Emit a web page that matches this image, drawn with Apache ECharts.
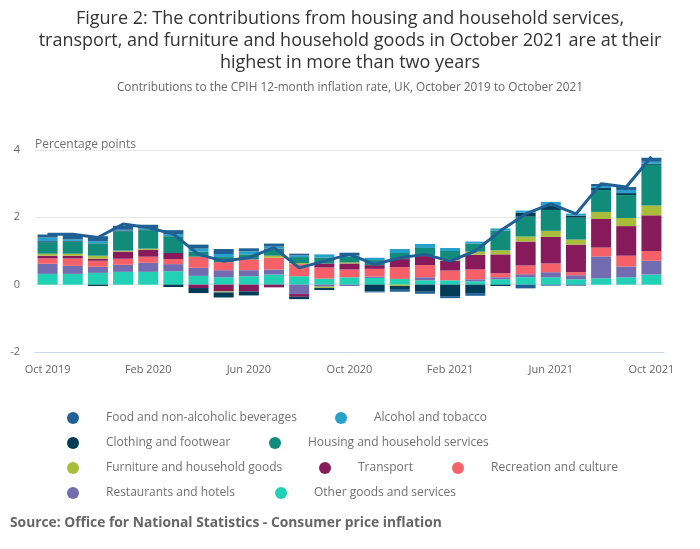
<!DOCTYPE html>
<html>
<head>
<meta charset="utf-8">
<script src="https://cdn.jsdelivr.net/npm/echarts@6/dist/echarts.min.js"></script>
<style>
html,body{margin:0;padding:0;background:#fff;}
#chart{width:700px;height:549px;}
</style>
</head>
<body>
<div id="chart"></div>
<script>
const months = ["Oct 2019","Nov 2019","Dec 2019","Jan 2020","Feb 2020","Mar 2020","Apr 2020","May 2020","Jun 2020","Jul 2020","Aug 2020","Sep 2020","Oct 2020","Nov 2020","Dec 2020","Jan 2021","Feb 2021","Mar 2021","Apr 2021","May 2021","Jun 2021","Jul 2021","Aug 2021","Sep 2021","Oct 2021"];

const otherGoods   = [0.32,0.32,0.35,0.38,0.38,0.40,0.26,0.22,0.25,0.30,0.25,0.18,0.22,0.20,0.17,0.13,0.13,0.10,0.16,0.22,0.22,0.16,0.19,0.22,0.30];
const restaurants  = [0.30,0.24,0.18,0.21,0.27,0.21,0.24,0.21,0.18,0.15,-0.28,-0.06,-0.04,0.04,0,0.09,0,0.06,0.06,0.09,0.15,0.12,0.65,0.32,0.41];
const recreation   = [0.16,0.22,0.18,0.18,0.18,0.15,0.33,0.24,0.32,0.35,0.36,0.33,0.23,0.23,0.35,0.36,0.29,0.29,0.12,0.26,0.26,0.09,0.26,0.32,0.29];
const transport    = [0.08,0.08,0.06,0.21,0.21,0.18,-0.10,-0.20,-0.20,-0.08,-0.08,0.12,0.18,0.11,0.24,0.27,0.29,0.44,0.56,0.71,0.79,0.82,0.85,0.88,1.06];
const furniture    = [0.06,0.06,0.09,0.03,0.03,0,0,-0.03,0,0.06,0.03,-0.04,0.03,0,-0.04,0.03,0.03,0.09,0.12,0.15,0.18,0.15,0.21,0.24,0.29];
const housing      = [0.33,0.36,0.37,0.57,0.55,0.50,0.15,0.15,0.15,0.18,0.18,0.17,0.18,0.15,0.18,0.21,0.26,0.24,0.59,0.59,0.62,0.65,0.65,0.68,1.21];
const clothing     = [0.04,0.02,-0.04,0.03,0.02,-0.07,-0.15,-0.15,-0.12,0.03,-0.07,-0.06,0,-0.20,-0.09,-0.21,-0.34,-0.25,-0.04,0.12,0.12,0.06,0.06,0.06,0.03];
const alcohol      = [0.11,0.05,0.06,0.02,0.04,0.06,0.09,0.09,0.09,0.06,0.05,0.10,0.03,0.07,0.12,0.12,0.09,0.06,0.06,0.06,0.12,0.06,0.06,0.09,0.06];
const food         = [0.09,0.14,0.15,0.12,0.10,0.12,0.12,0.15,0.09,0.09,0.05,0,0.08,-0.03,-0.08,-0.06,-0.06,-0.08,0,-0.11,-0.03,-0.03,0.06,0.09,0.12];
const cpih         = [1.5,1.5,1.4,1.8,1.7,1.5,0.9,0.7,0.8,1.1,0.5,0.7,0.9,0.6,0.8,0.9,0.7,1.0,1.6,2.1,2.4,2.1,3.0,2.9,3.8];

const yTicks = { min: -2, max: 4, interval: 2 };

// series stacked from bottom to top
const stackSeries = [
  { name: "Other goods and services", data: otherGoods, color: "#22d0b6" },
  { name: "Restaurants and hotels", data: restaurants, color: "#746cb1" },
  { name: "Recreation and culture", data: recreation, color: "#f66068" },
  { name: "Transport", data: transport, color: "#871a5b" },
  { name: "Furniture and household goods", data: furniture, color: "#a8bd3a" },
  { name: "Housing and household services", data: housing, color: "#118c7b" },
  { name: "Clothing and footwear", data: clothing, color: "#003c57" },
  { name: "Alcohol and tobacco", data: alcohol, color: "#27a0cc" },
  { name: "Food and non-alcoholic beverages", data: food, color: "#206095" }
];

// legend item placement (icon centre x, row centre y)
const legendLayout = [
  ["Food and non-alcoholic beverages", 73, 418],
  ["Alcohol and tobacco", 341, 418],
  ["Clothing and footwear", 73, 443],
  ["Housing and household services", 275, 443],
  ["Furniture and household goods", 73, 468],
  ["Transport", 325, 468],
  ["Recreation and culture", 458, 468],
  ["Restaurants and hotels", 73, 493],
  ["Other goods and services", 281, 493]
];

const chart = echarts.init(document.getElementById('chart'), null, { renderer: 'canvas' });

const legends = legendLayout.map(([name, cx, cy]) => ({
  data: [name],
  left: cx - 6,
  top: cy - 8,
  padding: 0,
  icon: 'circle',
  itemWidth: 56,
  itemHeight: 12,
  selectedMode: false,
  textStyle: { fontFamily: 'Open Sans', fontSize: 12, color: '#707070', lineHeight: 16 }
}));

const option = {
  animation: false,
  backgroundColor: '#ffffff',
  title: [
    {
      text: "Figure 2: The contributions from housing and household services,\ntransport, and furniture and household goods in October 2021 are at their\nhighest in more than two years",
      left: 'center', top: 8, padding: 0,
      textStyle: { fontFamily: 'Open Sans', fontSize: 18, fontWeight: 'normal', color: '#333333', lineHeight: 22 }
    },
    {
      text: "Contributions to the CPIH 12-month inflation rate, UK, October 2019 to October 2021",
      left: 'center', top: 81, padding: 0,
      textStyle: { fontFamily: 'Open Sans', fontSize: 11.8, fontWeight: 'normal', color: '#666666', lineHeight: 14 }
    }
  ],
  legend: legends,
  graphic: [
    { type: 'text', left: 35, top: 139, style: { text: 'Percentage points', font: '12px "Open Sans"', fill: '#707070' } },
    { type: 'text', left: 10, top: 516, style: { text: 'Source: Office for National Statistics - Consumer price inflation', font: 'bold 13.8px "Open Sans"', fill: '#666666' } }
  ],
  grid: { left: 35, right: 36, top: 150, bottom: 549 - 352 },
  xAxis: {
    type: 'category',
    data: months,
    axisLine: { onZero: false, lineStyle: { color: '#ccd6eb', width: 1 } },
    axisTick: { interval: 3, alignWithLabel: true, length: 6, lineStyle: { color: '#ccd6eb' } },
    axisLabel: {
      interval: 3, margin: 12,
      fontFamily: 'Open Sans', fontSize: 11, color: '#666666'
    }
  },
  yAxis: {
    type: 'value',
    min: yTicks.min, max: yTicks.max, interval: yTicks.interval,
    axisLine: { show: false },
    axisTick: { show: false },
    axisLabel: { margin: 15, fontFamily: 'Open Sans', fontSize: 11, color: '#666666', padding: [3, 0, 0, 0] },
    splitLine: { lineStyle: { color: '#e6e6e6', width: 1 } }
  },
  series: stackSeries.map(s => ({
    name: s.name,
    type: 'bar',
    stack: 'total',
    barWidth: 20,
    data: s.data,
    itemStyle: { color: s.color },
    emphasis: { disabled: true }
  })).concat([{
    name: 'CPIH',
    type: 'line',
    data: cpih,
    symbol: 'none',
    z: 10,
    lineStyle: { color: '#206095', width: 3 },
    itemStyle: { color: '#206095' }
  }])
};

chart.setOption(option);
</script>
</body>
</html>
